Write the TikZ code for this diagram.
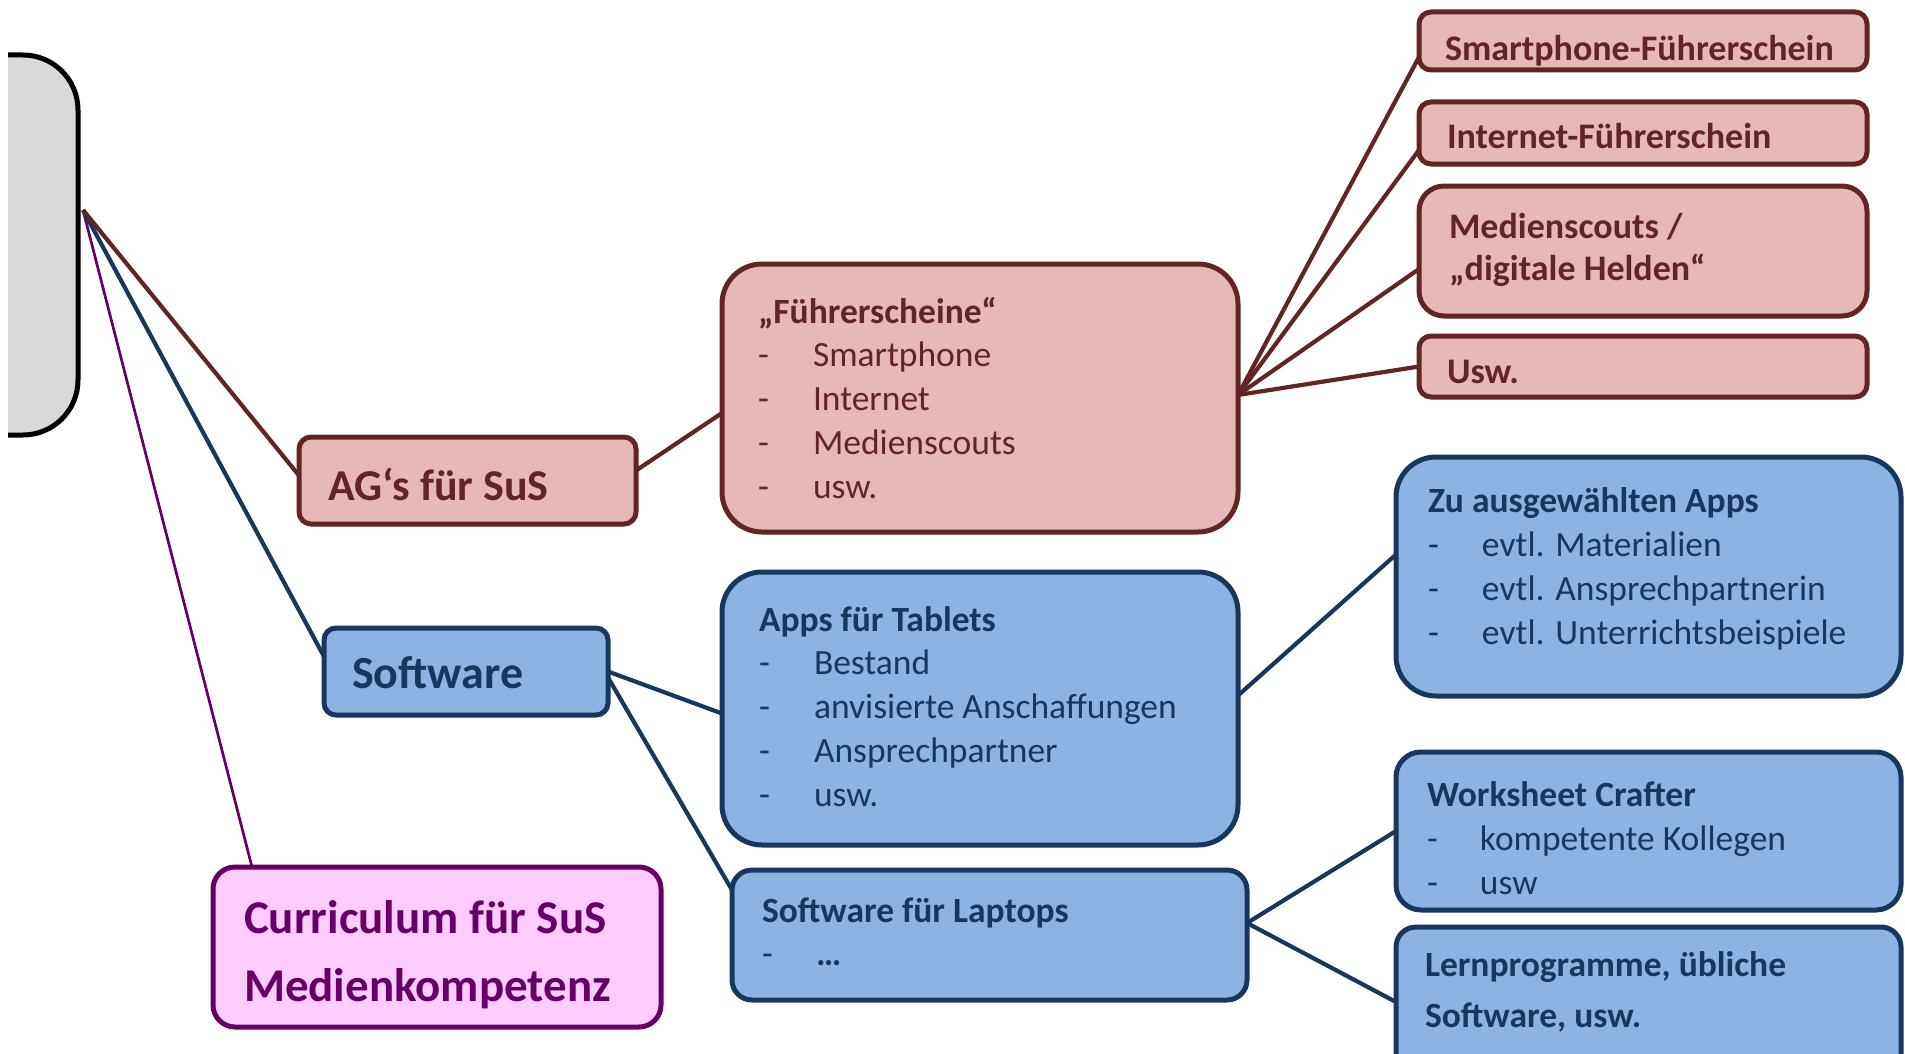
\documentclass[tikz,border=0pt]{standalone}
\usepackage{fontspec}
\setmainfont{Carlito}
\usetikzlibrary{calc}

\definecolor{brfill}{HTML}{E6B9B8}
\definecolor{brline}{HTML}{632523}
\definecolor{blfill}{HTML}{8DB3E2}
\definecolor{blline}{HTML}{17375E}
\definecolor{pufill}{HTML}{FFCCFF}
\definecolor{puline}{HTML}{660066}
\definecolor{grfill}{HTML}{D9D9D9}

\newcommand\listfont{\fontsize{35.5}{43.75}\selectfont}

\tikzset{
  box/.style={draw, line width=5pt, inner sep=0pt, outer sep=0pt, anchor=north west},
  brownbox/.style={box, fill=brfill, draw=brline},
  bluebox/.style={box, fill=blfill, draw=blline},
  purplebox/.style={box, fill=pufill, draw=puline},
  greybox/.style={box, fill=grfill, draw=black},
  txt/.style={anchor=base west, inner sep=0pt, outer sep=0pt},
  brtxt/.style={txt, text=brline},
  bltxt/.style={txt, text=blline},
  putxt/.style={txt, text=puline},
  brconn/.style={draw=brline, line width=4.2pt},
  blconn/.style={draw=blline, line width=4.2pt},
  puconn/.style={draw=puline, line width=2.7pt},
}

\begin{document}
\begin{tikzpicture}[x=1pt, y=-1pt]
\useasboundingbox (0,0) rectangle (1905,1054);
\clip (0,0) rectangle (1905,1054);

% root box, cut off at the left margin
\begin{scope}
  \clip (8,0) rectangle (300,600);
  \node[greybox, minimum width=138pt, minimum height=380pt, rounded corners=55pt] (root) at (-60,55) {};
\end{scope}

% first level
\node[brownbox, minimum width=337pt, minimum height=87pt, rounded corners=12pt] (ag) at (299,437) {};
\node[bluebox, minimum width=284pt, minimum height=87pt, rounded corners=12pt] (sw) at (324,628) {};
\node[purplebox, minimum width=448pt, minimum height=160pt, rounded corners=22pt] (cur) at (213,867) {};

% second level
\node[brownbox, minimum width=516pt, minimum height=268pt, rounded corners=40pt] (fs) at (722,264) {};
\node[bluebox, minimum width=516pt, minimum height=273pt, rounded corners=40pt] (ap) at (722,572) {};
\node[bluebox, minimum width=515pt, minimum height=130pt, rounded corners=20pt] (lp) at (732,870) {};

% third level
\node[brownbox, minimum width=448pt, minimum height=58pt, rounded corners=12pt] (sm) at (1419,12) {};
\node[brownbox, minimum width=448pt, minimum height=62pt, rounded corners=12pt] (in) at (1419,102) {};
\node[brownbox, minimum width=448pt, minimum height=130pt, rounded corners=25pt] (ms) at (1419,186) {};
\node[brownbox, minimum width=448pt, minimum height=61pt, rounded corners=12pt] (us) at (1419,336) {};
\node[bluebox, minimum width=505pt, minimum height=239pt, rounded corners=40pt] (zu) at (1396,457) {};
\node[bluebox, minimum width=505pt, minimum height=158pt, rounded corners=25pt] (ws) at (1396,752) {};
\node[bluebox, minimum width=505pt, minimum height=160pt, rounded corners=20pt] (lr) at (1396,927) {};

% connectors
\coordinate (hub) at (83,210);
\draw[puconn] (hub) -- ([xshift=39pt]cur.north west);
\draw[blconn] (hub) -- ([yshift=15pt]sw.west);
\draw[brconn] (hub) -- ([yshift=5pt]ag.west);
\draw[brconn] ([yshift=10pt]ag.east) -- ([yshift=-15pt]fs.west);
\draw[brconn] ([yshift=3pt]fs.east) -- ([yshift=-16pt]sm.west);
\draw[brconn] ([yshift=3pt]fs.east) -- ([yshift=-17pt]in.west);
\draw[brconn] ([yshift=3pt]fs.east) -- ([yshift=-18pt]ms.west);
\draw[brconn] ([yshift=3pt]fs.east) -- (us.west);
\draw[blconn] (sw.east) -- ([yshift=-5pt]ap.west);
\draw[blconn] ([yshift=-6pt]sw.east) -- ([yshift=45pt]lp.west);
\draw[blconn] ([yshift=13pt]ap.east) -- ([yshift=22pt]zu.west);
\draw[blconn] ([yshift=12pt]lp.east) -- (ws.west);
\draw[blconn] ([yshift=12pt]lp.east) -- ([yshift=5pt]lr.west);

% texts
\node[brtxt, font=\fontsize{44}{52}\selectfont\bfseries] (agt) at (328,500) {AG‘s für SuS};
\node[bltxt, font=\fontsize{46}{54}\selectfont\bfseries] (swt) at (352,688) {Software};
\node[putxt, font=\fontsize{47}{68}\selectfont\bfseries] (curt) at (244,933)
  {\begin{tabular}[t]{@{}l@{}}Curriculum für SuS\\Medienkompetenz\end{tabular}};

\node[brtxt, font=\listfont] (fst) at (758,323)
  {\begin{tabular}[t]{@{}p{55pt}@{}l@{}}\multicolumn{2}{@{}l@{}}{\bfseries „Führerscheine“}\\
   - & Smartphone\\ - & Internet\\ - & Medienscouts\\ - & usw.\end{tabular}};
\node[bltxt, font=\listfont] (apt) at (759,631)
  {\begin{tabular}[t]{@{}p{55pt}@{}l@{}}\multicolumn{2}{@{}l@{}}{\bfseries Apps für Tablets}\\
   - & Bestand\\ - & anvisierte Anschaffungen\\ - & Ansprechpartner\\ - & usw.\end{tabular}};
\node[bltxt, font=\fontsize{35.5}{43.5}\selectfont] (lpt) at (762,922)
  {\begin{tabular}[t]{@{}p{54pt}@{}l@{}}\multicolumn{2}{@{}l@{}}{\bfseries Software für Laptops}\\
   - & \bfseries …\end{tabular}};

\node[brtxt, font=\fontsize{36}{42}\selectfont\bfseries] (smt) at (1445,61) {Smartphone-Führerschein};
\node[brtxt, font=\fontsize{36}{42}\selectfont\bfseries] (int) at (1447,149) {Internet-Führerschein};
\node[brtxt, font=\fontsize{36}{42}\selectfont\bfseries] (mst) at (1449,238)
  {\begin{tabular}[t]{@{}l@{}}Medienscouts /\\„digitale Helden“\end{tabular}};
\node[brtxt, font=\fontsize{36}{42}\selectfont\bfseries] (ust) at (1447,383) {Usw.};

\node[bltxt, font=\fontsize{35.5}{44}\selectfont] (zut) at (1428,512)
  {\begin{tabular}[t]{@{}p{54pt}@{}l@{}}\multicolumn{2}{@{}l@{}}{\bfseries Zu ausgewählten Apps}\\
   - & evtl. Materialien\\ - & evtl. Ansprechpartnerin\\ - & evtl. Unterrichtsbeispiele\end{tabular}};
\node[bltxt, font=\fontsize{35.5}{44}\selectfont] (wst) at (1427,806)
  {\begin{tabular}[t]{@{}p{53pt}@{}l@{}}\multicolumn{2}{@{}l@{}}{\bfseries Worksheet Crafter}\\
   - & kompetente Kollegen\\ - & usw\end{tabular}};
\node[bltxt, font=\fontsize{35.5}{51}\selectfont\bfseries] (lrt) at (1425,976)
  {\begin{tabular}[t]{@{}l@{}}Lernprogramme, übliche\\Software, usw.\end{tabular}};
\end{tikzpicture}
\end{document}
